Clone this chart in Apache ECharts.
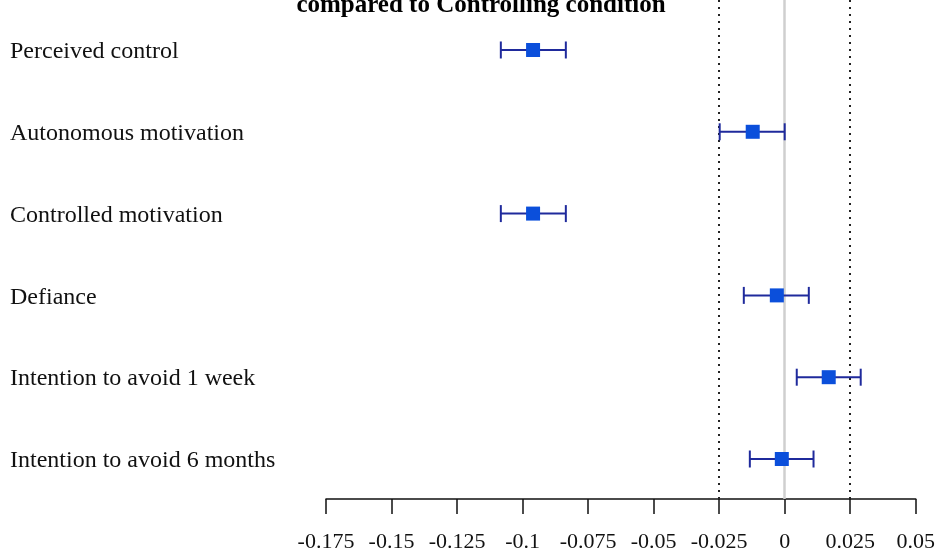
<!DOCTYPE html>
<html>
<head>
<meta charset="utf-8">
<script src="https://cdn.jsdelivr.net/npm/echarts@6/dist/echarts.min.js"></script>
<style>html,body{margin:0;padding:0;background:#fff;}#c{width:938px;height:553px;}</style>
</head>
<body>
<div id="c"></div>
<script>
var categories = ["Perceived control", "Autonomous motivation", "Controlled motivation", "Defiance", "Intention to avoid 1 week", "Intention to avoid 6 months"];
var estimates = [-0.096, -0.0122, -0.096, -0.003, 0.0168, -0.0011];
var lowerCI = [-0.1083, -0.0248, -0.1083, -0.0156, 0.0046, -0.0133];
var upperCI = [-0.0835, 0.0, -0.0835, 0.0092, 0.029, 0.011];
var tickValues = [-0.175, -0.15, -0.125, -0.1, -0.075, -0.05, -0.025, 0, 0.025, 0.05];
var tickLabels = ["-0.175", "-0.15", "-0.125", "-0.1", "-0.075", "-0.05", "-0.025", "0", "0.025", "0.05"];
var refLines = [-0.025, 0.025];
var titleText = "compared to Controlling condition";

var FONT = "'Liberation Serif', 'Times New Roman', serif";
var chart = echarts.init(document.getElementById('c'));

var errData = categories.map(function (c, i) { return [i, lowerCI[i], upperCI[i]]; });
var ptData = categories.map(function (c, i) { return [estimates[i], i]; });

function fmt(v) {
  for (var k = 0; k < tickValues.length; k++) {
    if (Math.abs(tickValues[k] - v) < 1e-9) return tickLabels[k];
  }
  return '';
}

chart.setOption({
  animation: false,
  backgroundColor: '#fff',
  title: {
    text: titleText,
    left: 476, textAlign: 'center', top: -12,
    textStyle: { fontFamily: FONT, fontWeight: 'bold', fontSize: 25, color: '#000' }
  },
  grid: [
    { left: 326, right: 22, top: 0, bottom: 54 },
    { left: 326, width: 1, top: 11, height: 490.8 }
  ],
  xAxis: [
    {
      gridIndex: 0, type: 'value', min: -0.175, max: 0.05, interval: 0.025,
      splitLine: { show: false },
      axisLine: { show: true, onZero: false, lineStyle: { color: '#111', width: 1.5 } },
      axisTick: { show: true, length: 15, lineStyle: { color: '#111', width: 1.5 } },
      axisLabel: { margin: 32, fontFamily: FONT, fontSize: 22, color: '#111', formatter: fmt, showMinLabel: true, showMaxLabel: true }
    },
    { gridIndex: 1, type: 'value', show: false }
  ],
  yAxis: [
    { gridIndex: 0, type: 'value', inverse: true, min: -0.611, max: 5.489, show: false },
    {
      gridIndex: 1, type: 'category', data: categories, inverse: true,
      axisLine: { show: false }, axisTick: { show: false }, splitLine: { show: false },
      axisLabel: { align: 'left', margin: 316, fontFamily: FONT, fontSize: 24, color: '#111' }
    }
  ],
  series: [
    {
      type: 'custom', xAxisIndex: 0, yAxisIndex: 0, data: errData, z: 3,
      renderItem: function (params, api) {
        var y = api.value(0);
        var p1 = api.coord([api.value(1), y]);
        var p2 = api.coord([api.value(2), y]);
        var h = 8.5;
        var st = { stroke: '#1f2a9c', lineWidth: 2 };
        return { type: 'group', children: [
          { type: 'line', shape: { x1: p1[0], y1: p1[1], x2: p2[0], y2: p2[1] }, style: st },
          { type: 'line', shape: { x1: p1[0], y1: p1[1] - h, x2: p1[0], y2: p1[1] + h }, style: st },
          { type: 'line', shape: { x1: p2[0], y1: p2[1] - h, x2: p2[0], y2: p2[1] + h }, style: st }
        ]};
      }
    },
    {
      type: 'scatter', xAxisIndex: 0, yAxisIndex: 0, data: ptData, z: 5,
      symbol: 'rect', symbolSize: 14,
      itemStyle: { color: '#0b4fdb', opacity: 1 },
      markLine: {
        silent: true, symbol: 'none', label: { show: false }, z: 1, precision: 4,
        data: [
          { xAxis: 0, lineStyle: { color: '#cfcfcf', width: 2.5, type: 'solid' } },
          { xAxis: refLines[0], lineStyle: { color: '#222', width: 2, type: [2, 5] } },
          { xAxis: refLines[1], lineStyle: { color: '#222', width: 2, type: [2, 5] } }
        ]
      }
    }
  ]
});
</script>
</body>
</html>
